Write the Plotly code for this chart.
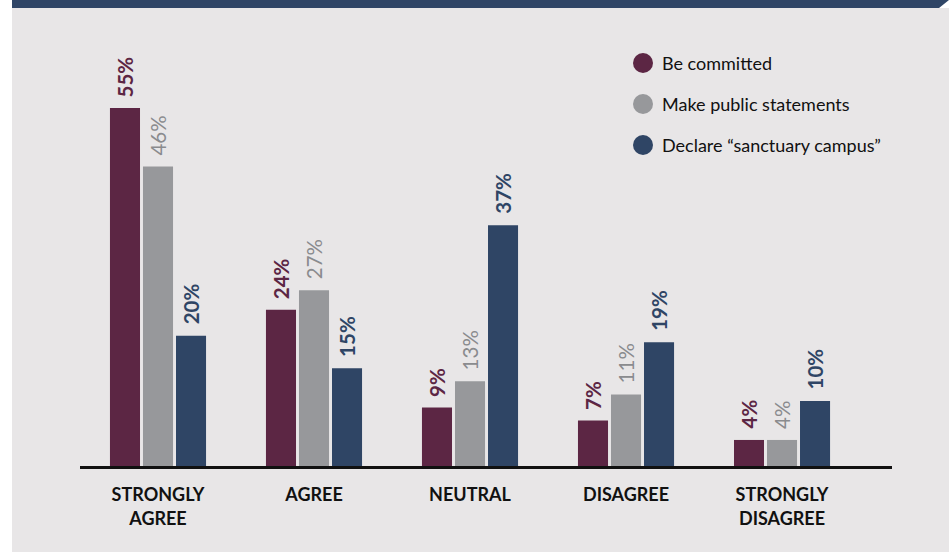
import plotly.graph_objects as go

# ---- data ----
categories = ["STRONGLY<br>AGREE", "AGREE", "NEUTRAL", "DISAGREE", "STRONGLY<br>DISAGREE"]
be_committed = [55, 24, 9, 7, 4]
public_statements = [46, 27, 13, 11, 4]
sanctuary_campus = [20, 15, 37, 19, 10]
series_names = ["Be committed", "Make public statements", "Declare \u201csanctuary campus\u201d"]

# ---- style ----
W, H = 949, 552
L, R, T, B = 80, 57, 60, 86
PW, PH = W - L - R, H - T - B
colors = ["#5c2644", "#97989b", "#2f4565"]
label_colors = ["#5c2644", "#8a8b8e", "#2f4565"]
label_bold = [True, False, True]
BG = "#e8e6e7"
NAVY = "#2f4566"
FONT = "Lato"
BARGAP = 0.365
GROUPGAP = 0.09


def px_x(p):
    return (p - L) / PW


def px_y(p):
    return (H - B - p) / PH


series = [be_committed, public_statements, sanctuary_campus]
xs = list(range(len(categories)))

fig = go.Figure()
for name, vals, col in zip(series_names, series, colors):
    fig.add_trace(go.Bar(x=xs, y=vals, name=name, marker_color=col,
                         marker_line_width=0, showlegend=False, hoverinfo="skip"))

slot = (1 - BARGAP) / len(series)
annotations = []
for k, (vals, lc, bold) in enumerate(zip(series, label_colors, label_bold)):
    off = (k - (len(series) - 1) / 2) * slot
    for i, v in enumerate(vals):
        txt = f"{v}%"
        if bold:
            txt = f"<b>{txt}</b>"
        annotations.append(dict(x=i + off, y=v, xref="x", yref="y", text=txt,
                                textangle=-90, showarrow=False, yanchor="bottom",
                                xanchor="center", yshift=9,
                                font=dict(family=FONT, size=20.5, color=lc)))

# legend (drawn manually to match circle swatches)
leg_y = [63, 104, 145]
shapes = [
    # grey card background
    dict(type="rect", xref="paper", yref="paper", x0=px_x(12), x1=px_x(949),
         y0=px_y(552), y1=px_y(8), fillcolor=BG, line_width=0, layer="below"),
    # navy band on top with slanted right corner
    dict(type="path", xref="paper", yref="paper",
         path=(f"M {px_x(12)},{px_y(0)} L {px_x(949)},{px_y(0)} "
               f"L {px_x(939)},{px_y(8)} L {px_x(12)},{px_y(8)} Z"),
         fillcolor=NAVY, line_width=0, layer="below"),
]
for name, col, yy in zip(series_names, colors, leg_y):
    shapes.append(dict(type="circle", xref="paper", yref="paper",
                       x0=px_x(633), x1=px_x(653), y0=px_y(yy + 10), y1=px_y(yy - 10),
                       fillcolor=col, line_width=0))
    annotations.append(dict(x=px_x(660), y=px_y(yy), xref="paper", yref="paper",
                            text=name, showarrow=False, xanchor="left", yanchor="middle",
                            font=dict(family=FONT, size=18, color="#111111")))

fig.update_layout(
    width=W, height=H,
    margin=dict(l=L, r=R, t=T, b=B, pad=0),
    paper_bgcolor="white", plot_bgcolor="rgba(0,0,0,0)",
    barmode="group", bargap=BARGAP, bargroupgap=GROUPGAP,
    shapes=shapes, annotations=annotations,
    xaxis=dict(tickvals=xs, ticktext=categories, range=[-0.5, 4.705],
               showline=True, linecolor="#111111", linewidth=2.5,
               showgrid=False, zeroline=False, ticks="", ticklabelstandoff=11,
               tickfont=dict(family=FONT, size=18, color="#111111", weight="bold")),
    yaxis=dict(visible=False, range=[0, PH / 6.51], showgrid=False, zeroline=False),
    font=dict(family=FONT),
)

fig.write_html("out.html", config={"displayModeBar": False},
               post_script="document.body.style.margin='0';document.body.style.overflow='hidden';")
